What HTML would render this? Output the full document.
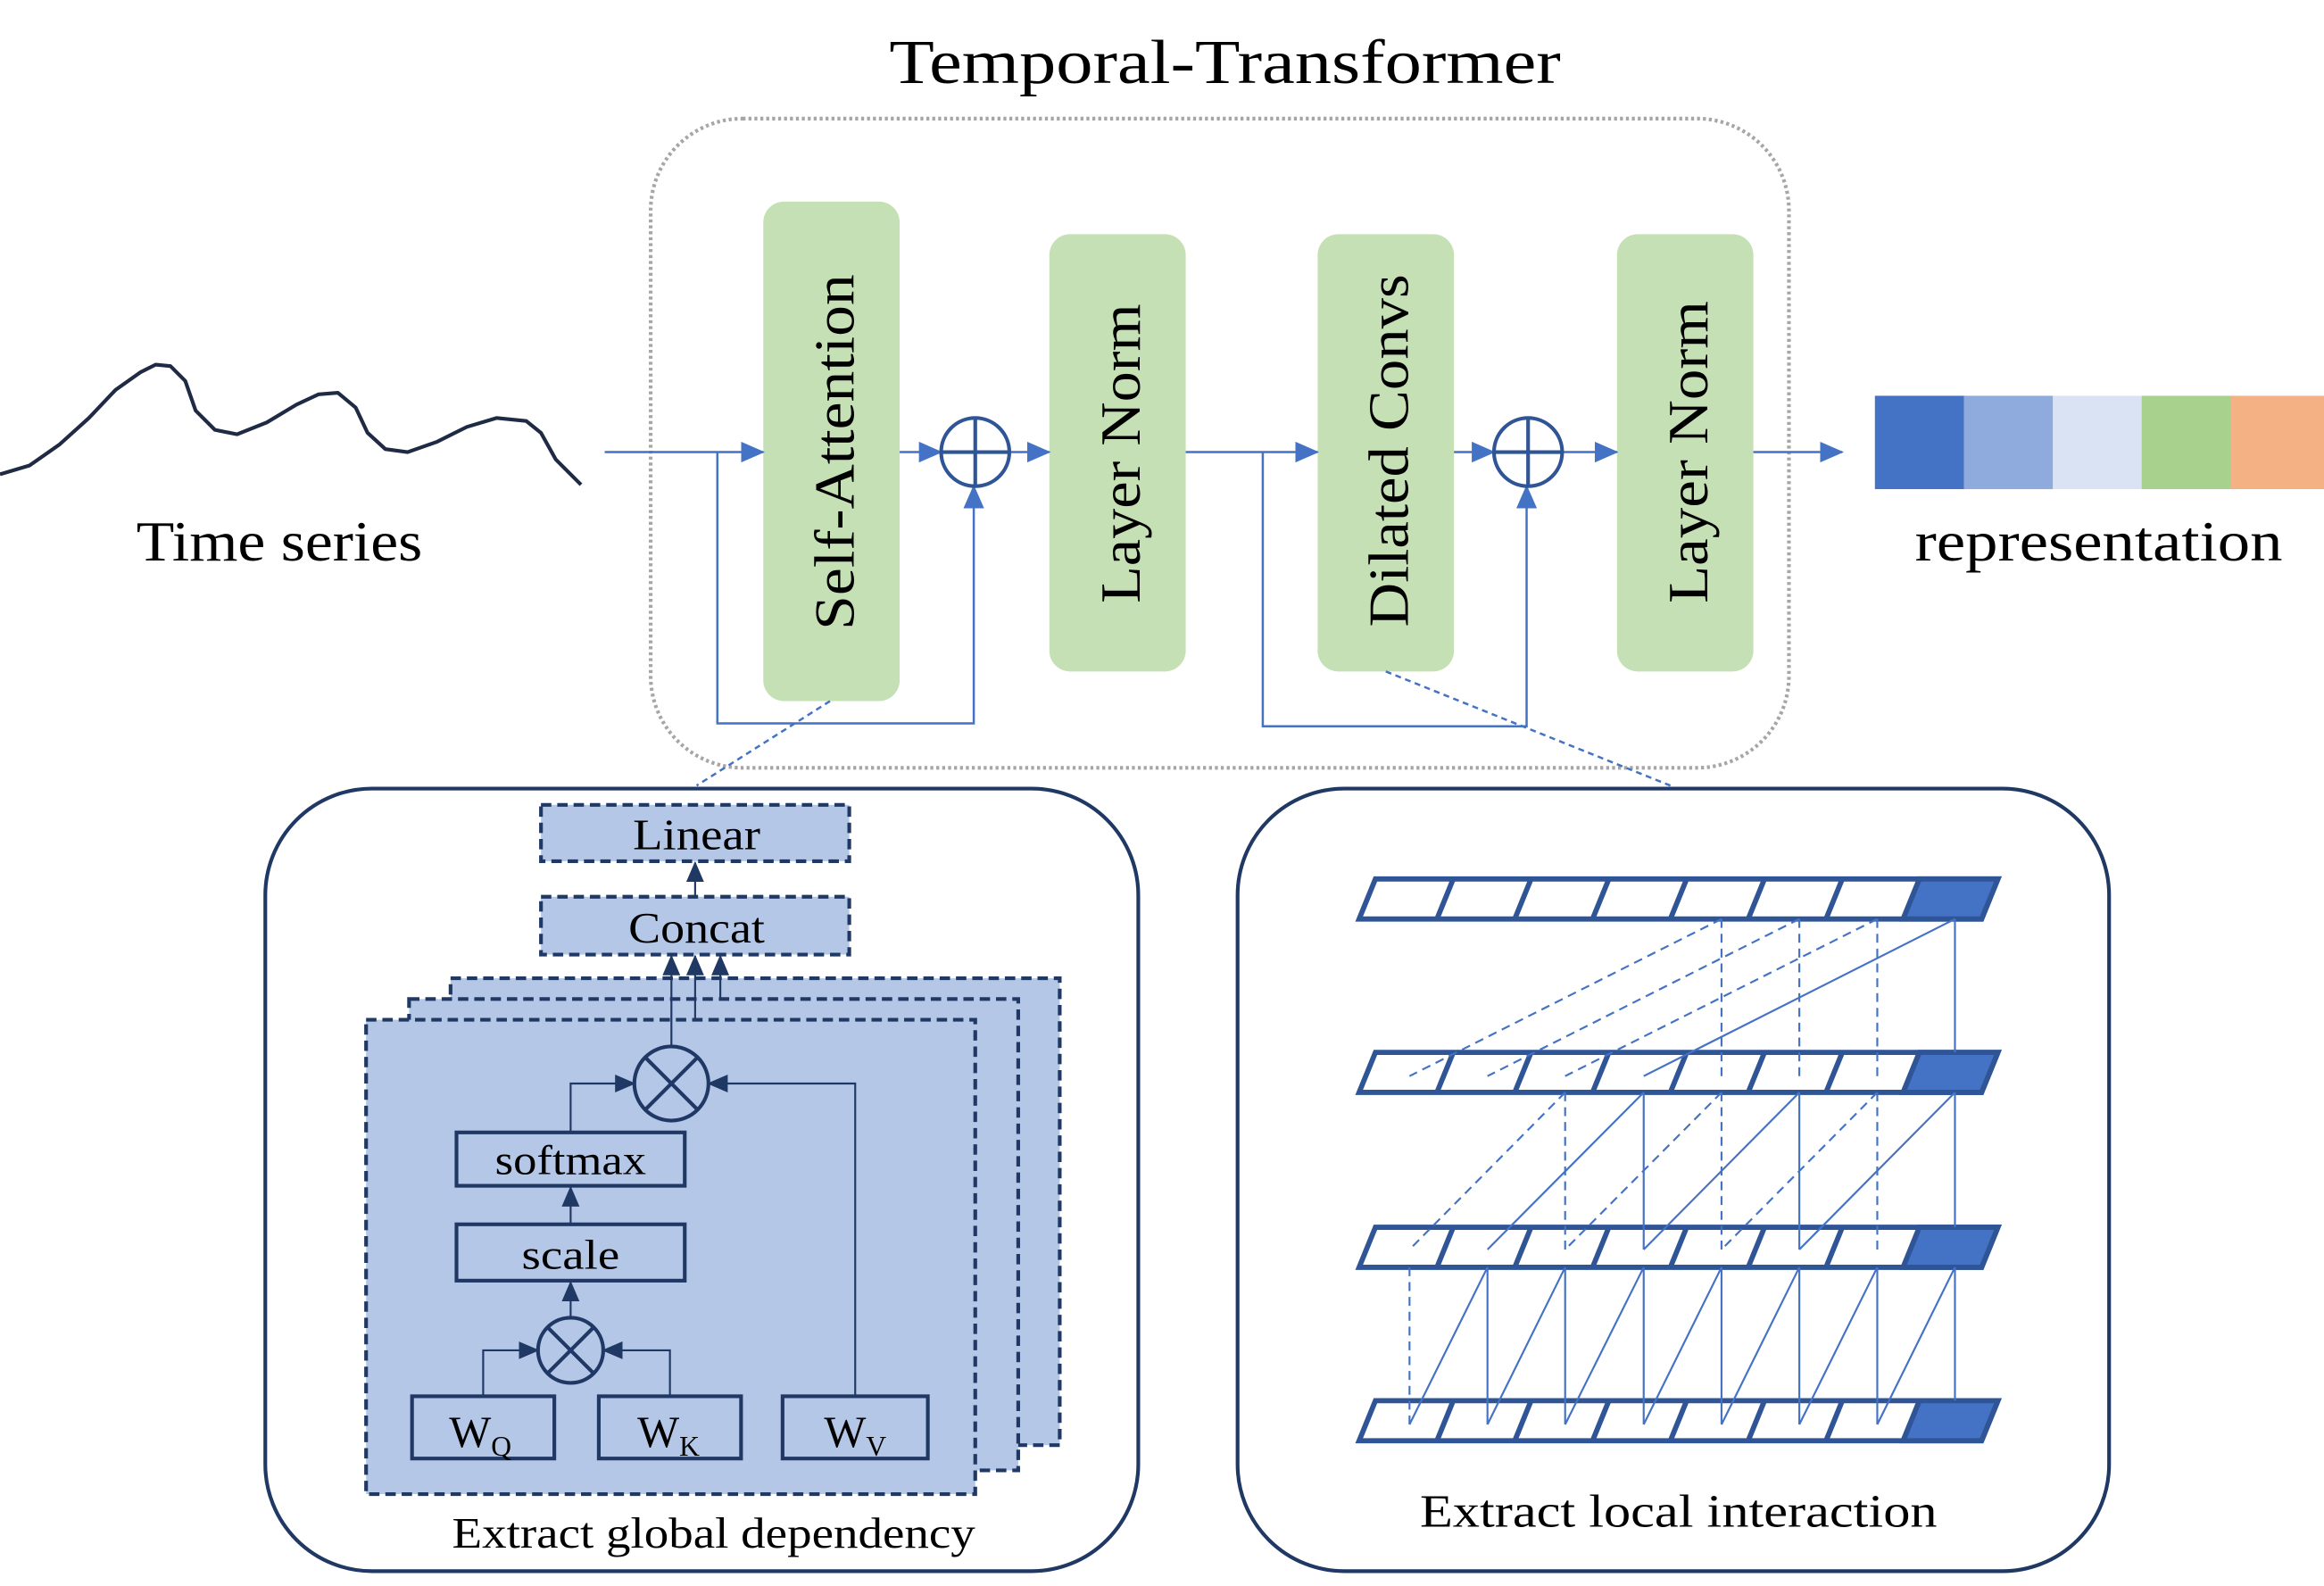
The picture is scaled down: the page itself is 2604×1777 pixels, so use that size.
<!DOCTYPE html>
<html><head><meta charset="utf-8"><style>html,body{margin:0;padding:0;background:#fff}svg{display:block}</style></head>
<body>
<svg width="2604" height="1777" viewBox="0 0 1568 1070" xmlns="http://www.w3.org/2000/svg" font-family="'Liberation Serif', serif">
<defs>
<marker id="ab" markerWidth="16" markerHeight="14" refX="15" refY="7" orient="auto" markerUnits="userSpaceOnUse"><path d="M0,0 L16,7 L0,14 z" fill="#4472c4"/></marker>
<marker id="ad" markerWidth="14" markerHeight="12" refX="13" refY="6" orient="auto" markerUnits="userSpaceOnUse"><path d="M0,0 L14,6 L0,12 z" fill="#203864"/></marker>
</defs>
<text x="600" y="56" font-size="42" textLength="453" lengthAdjust="spacingAndGlyphs">Temporal-Transformer</text>
<rect x="439" y="80" width="768" height="438" rx="62" fill="none" stroke="#a6a6a6" stroke-width="2.5" stroke-dasharray="2,2"/>
<polyline fill="none" stroke="#1f2a44" stroke-width="2.5" stroke-linejoin="round" points="0,320 20,314 40,300 60,282 78,263 95,251 105,246 115,247 125,257 132,277 145,290 160,293 180,285 200,273 215,266 228,265 240,275 248,292 260,303 275,305 295,298 315,288 335,282 355,284 365,292 375,310 392,327"/>
<text x="92" y="378" font-size="38" textLength="193" lengthAdjust="spacingAndGlyphs">Time series</text>
<g fill="#c5e0b4">
<rect x="515" y="136" width="92" height="337" rx="14"/>
<rect x="708" y="158" width="92" height="295" rx="14"/>
<rect x="889" y="158" width="92" height="295" rx="14"/>
<rect x="1091" y="158" width="92" height="295" rx="14"/>
</g>
<g font-size="38" lengthAdjust="spacingAndGlyphs">
<text transform="translate(576,425) rotate(-90)" textLength="240" lengthAdjust="spacingAndGlyphs">Self-Attention</text>
<text transform="translate(769,407) rotate(-90)" textLength="202" lengthAdjust="spacingAndGlyphs">Layer Norm</text>
<text transform="translate(950,423) rotate(-90)" textLength="238" lengthAdjust="spacingAndGlyphs">Dilated Convs</text>
<text transform="translate(1152,407) rotate(-90)" textLength="204" lengthAdjust="spacingAndGlyphs">Layer Norm</text>
</g>
<g stroke="#4472c4" stroke-width="1.5" fill="none">
<line x1="408" y1="305" x2="515" y2="305" marker-end="url(#ab)"/>
<polyline points="484,305 484,488 657,488 657,328" marker-end="url(#ab)"/>
<line x1="607" y1="305" x2="635" y2="305" marker-end="url(#ab)"/>
<line x1="681" y1="305" x2="708" y2="305" marker-end="url(#ab)"/>
<line x1="800" y1="305" x2="889" y2="305" marker-end="url(#ab)"/>
<polyline points="852,305 852,490 1030,490 1030,328" marker-end="url(#ab)"/>
<line x1="981" y1="305" x2="1008" y2="305" marker-end="url(#ab)"/>
<line x1="1054" y1="305" x2="1091" y2="305" marker-end="url(#ab)"/>
<line x1="1183" y1="305" x2="1243" y2="305" marker-end="url(#ab)"/>
<line x1="560" y1="473" x2="470" y2="530" stroke-dasharray="4,3"/>
<line x1="935" y1="453" x2="1127" y2="530" stroke-dasharray="4,3"/>
</g>
<g stroke="#2f5597" stroke-width="2.5" fill="none">
<circle cx="658" cy="305" r="23"/><line x1="635" y1="305" x2="681" y2="305"/><line x1="658" y1="282" x2="658" y2="328"/>
<circle cx="1031" cy="305" r="23"/><line x1="1008" y1="305" x2="1054" y2="305"/><line x1="1031" y1="282" x2="1031" y2="328"/>
</g>
<rect x="1265" y="267" width="61" height="63" fill="#4472c4"/>
<rect x="1325" y="267" width="61" height="63" fill="#8faadc"/>
<rect x="1385" y="267" width="61" height="63" fill="#dae3f3"/>
<rect x="1445" y="267" width="61" height="63" fill="#a9d18e"/>
<rect x="1505" y="267" width="63" height="63" fill="#f4b183"/>
<text x="1292" y="378" font-size="38" textLength="248" lengthAdjust="spacingAndGlyphs">representation</text>
<rect x="179" y="532" width="589" height="528" rx="72" fill="none" stroke="#1f3864" stroke-width="2.5"/>
<rect x="835" y="532" width="588" height="528" rx="72" fill="none" stroke="#1f3864" stroke-width="2.5"/>
<g fill="#b4c7e7" stroke="#203864" stroke-width="2.5" stroke-dasharray="7,4">
<rect x="304" y="660" width="411" height="315"/>
<rect x="276" y="674" width="411" height="318"/>
<rect x="247" y="688" width="411" height="320"/>
<rect x="365" y="543" width="208" height="38"/>
<rect x="365" y="605" width="208" height="39"/>
</g>
<g font-size="29">
<text x="427" y="573" textLength="86" lengthAdjust="spacingAndGlyphs">Linear</text>
<text x="424" y="636" textLength="92" lengthAdjust="spacingAndGlyphs">Concat</text>
</g>
<g stroke="#203864" stroke-width="1.3" fill="none">
<line x1="469" y1="605" x2="469" y2="582" marker-end="url(#ad)"/>
<line x1="453" y1="706" x2="453" y2="645" marker-end="url(#ad)"/>
<line x1="469" y1="688" x2="469" y2="645" marker-end="url(#ad)"/>
<line x1="486" y1="674" x2="486" y2="645" marker-end="url(#ad)"/>
<polyline points="326,942 326,911 363,911" marker-end="url(#ad)"/>
<polyline points="452,942 452,911 407,911" marker-end="url(#ad)"/>
<line x1="385" y1="889" x2="385" y2="865" marker-end="url(#ad)"/>
<line x1="385" y1="826" x2="385" y2="801" marker-end="url(#ad)"/>
<polyline points="385,764 385,731 428,731" marker-end="url(#ad)"/>
<polyline points="577,942 577,731 478,731" marker-end="url(#ad)"/>
</g>
<g stroke="#203864" stroke-width="2.5" fill="none">
<circle cx="453" cy="731" r="25"/><line x1="435" y1="713" x2="471" y2="749"/><line x1="471" y1="713" x2="435" y2="749"/>
<circle cx="385" cy="911" r="22"/><line x1="369" y1="895" x2="401" y2="927"/><line x1="401" y1="895" x2="369" y2="927"/>
<rect x="308" y="764" width="154" height="36"/>
<rect x="308" y="826" width="154" height="38"/>
<rect x="278" y="942" width="96" height="42"/>
<rect x="404" y="942" width="96" height="42"/>
<rect x="528" y="942" width="98" height="42"/>
</g>
<g font-size="28">
<text x="334" y="792" textLength="102" lengthAdjust="spacingAndGlyphs">softmax</text>
<text x="352" y="856" textLength="66" lengthAdjust="spacingAndGlyphs">scale</text>
</g>
<g font-size="30">
<text x="303" y="976">W<tspan font-size="19" dy="6">Q</tspan></text>
<text x="430" y="976">W<tspan font-size="19" dy="6">K</tspan></text>
<text x="556" y="976">W<tspan font-size="19" dy="6">V</tspan></text>
</g>
<text x="305" y="1044" font-size="29" textLength="353" lengthAdjust="spacingAndGlyphs">Extract global dependency</text>
<text x="958" y="1030" font-size="31" textLength="349" lengthAdjust="spacingAndGlyphs">Extract local interaction</text>
<g stroke="#2f5597" stroke-width="3.5" fill="#fff" stroke-linejoin="miter">
<g id="row">
<polygon points="928,593 1348,593 1337,620 917,620"/>
<polygon points="1295,593 1348,593 1337,620 1284,620" fill="#4472c4"/>
<line x1="980.5" y1="593" x2="969.5" y2="620"/><line x1="1033" y1="593" x2="1022" y2="620"/>
<line x1="1085.5" y1="593" x2="1074.5" y2="620"/><line x1="1138" y1="593" x2="1127" y2="620"/>
<line x1="1190.5" y1="593" x2="1179.5" y2="620"/><line x1="1243" y1="593" x2="1232" y2="620"/>
</g>
<use href="#row" y="117"/>
<use href="#row" y="235"/>
<use href="#row" y="352"/>
</g>
<g stroke="#4472c4" stroke-width="1.3" fill="none">
<line x1="1319" y1="620" x2="1319" y2="710"/>
<line x1="1319" y1="620" x2="1109" y2="726"/>
<g stroke-dasharray="6,4">
<line x1="1266.6" y1="620" x2="1056" y2="726"/>
<line x1="1214" y1="620" x2="1003.6" y2="726"/>
<line x1="1161.5" y1="620" x2="951" y2="726"/>
<line x1="1161.5" y1="620" x2="1161.5" y2="726"/>
<line x1="1214" y1="620" x2="1214" y2="726"/>
<line x1="1266.6" y1="620" x2="1266.6" y2="726"/>
</g>
<line x1="1319" y1="737" x2="1319" y2="828"/>
<line x1="1319" y1="737" x2="1214" y2="843"/>
<line x1="1214" y1="737" x2="1214" y2="843"/>
<line x1="1214" y1="737" x2="1109" y2="843"/>
<line x1="1109" y1="737" x2="1109" y2="843"/>
<line x1="1109" y1="737" x2="1003.6" y2="843"/>
<g stroke-dasharray="6,4">
<line x1="1266.6" y1="737" x2="1266.6" y2="843"/>
<line x1="1266.6" y1="737" x2="1161.5" y2="843"/>
<line x1="1161.5" y1="737" x2="1161.5" y2="843"/>
<line x1="1161.5" y1="737" x2="1056" y2="843"/>
<line x1="1056" y1="737" x2="1056" y2="843"/>
<line x1="1056" y1="737" x2="951" y2="843"/>
</g>
<line x1="951" y1="855" x2="951" y2="961" stroke-dasharray="6,4"/>
<line x1="1003.6" y1="855" x2="951" y2="961"/><line x1="1003.6" y1="855" x2="1003.6" y2="961"/>
<line x1="1056" y1="855" x2="1003.6" y2="961"/><line x1="1056" y1="855" x2="1056" y2="961"/>
<line x1="1109" y1="855" x2="1056" y2="961"/><line x1="1109" y1="855" x2="1109" y2="961"/>
<line x1="1161.5" y1="855" x2="1109" y2="961"/><line x1="1161.5" y1="855" x2="1161.5" y2="961"/>
<line x1="1214" y1="855" x2="1161.5" y2="961"/><line x1="1214" y1="855" x2="1214" y2="961"/>
<line x1="1266.6" y1="855" x2="1214" y2="961"/><line x1="1266.6" y1="855" x2="1266.6" y2="961"/>
<line x1="1319" y1="855" x2="1266.6" y2="961"/><line x1="1319" y1="855" x2="1319" y2="945"/>
</g>
</svg>
</body></html>
